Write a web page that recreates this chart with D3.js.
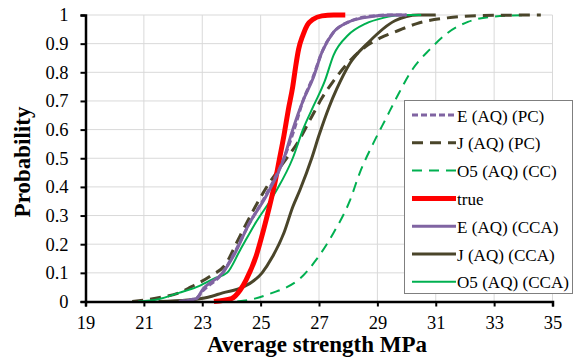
<!DOCTYPE html>
<html><head><meta charset="utf-8">
<script src="https://cdn.jsdelivr.net/npm/d3@7"></script>
<style>body{margin:0;background:#fff}svg{display:block}</style>
</head><body><svg id="c" width="576" height="363" font-family="Liberation Serif"></svg>
<script>
const xTicks = [19,21,23,25,27,29,31,33,35];
const yTicks = [0,0.1,0.2,0.3,0.4,0.5,0.6,0.7,0.8,0.9,1];
const seriesNames = ["E (AQ) (PC)","J (AQ) (PC)","O5 (AQ) (CC)","true","E (AQ) (CCA)","J (AQ) (CCA)","O5 (AQ) (CCA)"];
const ePC = [[22.2,0],[22.8,0.012],[23.05,0.04],[23.7,0.1],[24.05,0.16],[24.6,0.27],[25.2,0.375],[25.8,0.5],[26.15,0.6],[26.45,0.7],[26.8,0.785],[27.1,0.87],[27.5,0.94],[28.0,0.975],[28.5,0.992],[29.4,1],[30,1]];
const jPC = [[20.6,0],[21.6,0.015],[22.2,0.03],[22.6,0.05],[23.3,0.09],[23.8,0.13],[24.2,0.21],[24.5,0.27],[25.15,0.39],[25.75,0.48],[26.3,0.56],[26.75,0.645],[27.1,0.71],[27.5,0.77],[28.1,0.845],[28.6,0.89],[29.1,0.92],[29.7,0.945],[30.35,0.97],[31.4,0.99],[32.5,0.998],[34.6,1]];
const o5CC = [[24.2,0],[24.8,0.01],[25.4,0.03],[25.9,0.05],[26.35,0.08],[26.9,0.145],[27.5,0.24],[28.05,0.35],[28.4,0.45],[28.85,0.55],[29.3,0.64],[29.65,0.71],[30.2,0.81],[30.8,0.88],[31.4,0.937],[32.1,0.976],[32.85,0.993],[34.2,1]];
const trueD = [[23.4,0],[24.0,0.01],[24.3,0.04],[24.5,0.075],[24.85,0.16],[25.1,0.25],[25.3,0.33],[25.5,0.42],[25.65,0.5],[25.8,0.58],[25.95,0.67],[26.1,0.75],[26.2,0.82],[26.3,0.88],[26.45,0.93],[26.6,0.965],[26.8,0.985],[27.1,0.997],[27.5,1],[27.9,1]];
const eCCA = [[22.2,0],[22.8,0.01],[23.0,0.04],[23.7,0.1],[24.05,0.155],[24.6,0.27],[25.2,0.37],[25.8,0.5],[26.1,0.6],[26.45,0.7],[26.8,0.78],[27.1,0.87],[27.5,0.94],[28.0,0.975],[28.5,0.99],[29.5,1],[30,1]];
const jCCA = [[21.5,0],[22.5,0.005],[23.2,0.015],[23.7,0.03],[24.4,0.05],[25.05,0.1],[25.4,0.155],[25.8,0.24],[26.1,0.33],[26.35,0.39],[26.75,0.5],[27.0,0.58],[27.35,0.68],[27.6,0.74],[28.05,0.83],[28.7,0.905],[29.6,0.98],[30.4,1],[31,1]];
const o5CCA = [[20.8,0],[21.5,0.008],[22.2,0.03],[22.8,0.05],[23.4,0.08],[23.85,0.1],[24.3,0.18],[24.8,0.27],[25.5,0.38],[26.1,0.5],[26.45,0.6],[26.8,0.68],[27.2,0.77],[27.5,0.86],[28.0,0.93],[28.6,0.97],[29.2,0.99],[29.8,1],[30.5,1]];

const styles = [
  {c:"#8064A2", w:3, d:"6,3"},
  {c:"#4A452A", w:3, d:"11,7"},
  {c:"#00B050", w:2, d:"10,7"},
  {c:"#FF0000", w:5, d:null},
  {c:"#8064A2", w:3, d:null},
  {c:"#4A452A", w:3, d:null},
  {c:"#00B050", w:2, d:null}
];
const data = [ePC,jPC,o5CC,trueD,eCCA,jCCA,o5CCA];
const drawOrder = [2,5,1,6,3,0,4];

const svg = d3.select("#c");
const L=85.5, R=552.5, T=15, B=301.5;
const x = d3.scaleLinear().domain([19,35]).range([L,R]);
const y = d3.scaleLinear().domain([0,1]).range([B,T]);
const font = "Liberation Serif";

svg.append("g").selectAll("line").data(xTicks.slice(1)).join("line")
  .attr("x1",d=>x(d)).attr("x2",d=>x(d)).attr("y1",T).attr("y2",B)
  .attr("stroke","#d9d9d9").attr("stroke-width",1);
svg.append("g").selectAll("line").data(yTicks.slice(1)).join("line")
  .attr("x1",L).attr("x2",R).attr("y1",d=>y(d)).attr("y2",d=>y(d))
  .attr("stroke","#d9d9d9").attr("stroke-width",1);

const line = d3.line().x(d=>x(d[0])).y(d=>y(d[1])).curve(d3.curveMonotoneX);
drawOrder.forEach(i=>{
  svg.append("path").datum(data[i]).attr("d",line)
    .attr("fill","none").attr("stroke",styles[i].c).attr("stroke-width",styles[i].w)
    .attr("stroke-dasharray",styles[i].d).attr("stroke-linejoin","round");
});

const xa = svg.append("g").attr("transform",`translate(0,${B})`)
  .call(d3.axisBottom(x).tickValues(xTicks).tickSize(5).tickPadding(9).tickFormat(d3.format("d")));
const ya = svg.append("g").attr("transform",`translate(${L},0)`)
  .call(d3.axisLeft(y).tickValues(yTicks).tickSize(5).tickPadding(12).tickFormat(d=>d===0?"0":d===1?"1":d3.format(".1f")(d)));
[xa,ya].forEach(a=>{
  a.attr("font-family",font).attr("font-size",18.5);
  a.select(".domain").attr("stroke","#000").attr("stroke-width",2.5);
  a.selectAll(".tick line").attr("stroke","#000").attr("stroke-width",2);
  a.selectAll(".tick text").attr("font-family",font).attr("font-size",18.5).attr("fill","#000");
});

const lg = svg.append("g");
lg.append("rect").attr("x",404.5).attr("y",100.5).attr("width",168).attr("height",193)
  .attr("fill","#fff").attr("stroke","#7f7f7f").attr("stroke-width",1);
const lgTexts = [];
seriesNames.forEach((n,i)=>{
  const yy = 115 + i*27.8;
  lg.append("line").attr("x1",412).attr("x2",456).attr("y1",yy).attr("y2",yy)
    .attr("stroke",styles[i].c).attr("stroke-width",styles[i].w).attr("stroke-dasharray",styles[i].d);
  lgTexts.push(lg.append("text").attr("x",457).attr("y",yy+6.5).text(n)
    .attr("font-family",font).attr("font-size",18.5).attr("fill","#000"));
});
// shrink legend font uniformly if the longest label would overflow the box
const maxW = d3.max(lgTexts, t=>t.node().getComputedTextLength());
if (maxW > 112) { const fs = 18.5*112/maxW; lgTexts.forEach(t=>t.attr("font-size",fs)); }

svg.append("text").attr("x",317).attr("y",352).attr("text-anchor","middle")
  .attr("font-family",font).attr("font-weight","bold").attr("font-size",23).text("Average strength MPa");
svg.append("text").attr("transform",`translate(30,162) rotate(-90)`).attr("text-anchor","middle")
  .attr("font-family",font).attr("font-weight","bold").attr("font-size",23).text("Probability");
</script></body></html>
